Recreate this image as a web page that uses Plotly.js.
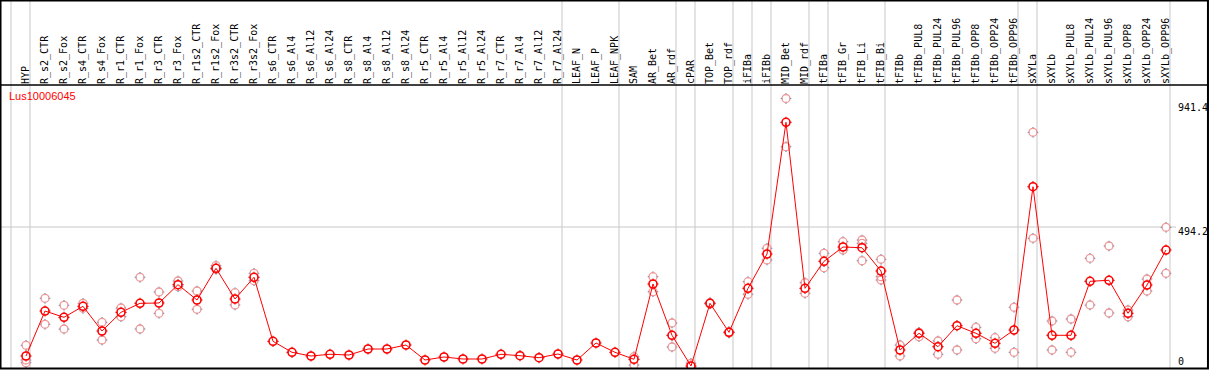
<!DOCTYPE html>
<html>
<head>
<meta charset="utf-8">
<script src="https://cdn.plot.ly/plotly-3.0.1.min.js"></script>
<style>html,body{margin:0;padding:0;background:#fff;}#chart{width:1209px;height:370px;}</style>
</head>
<body>
<div id="chart"></div>
<script>
const geneName = 'Lus10006045';

const categories = ['HYP','R_s2_CTR','R_s2_Fox','R_s4_CTR','R_s4_Fox','R_r1_CTR','R_r1_Fox','R_r3_CTR','R_r3_Fox',
  'R_r1s2_CTR','R_r1s2_Fox','R_r3s2_CTR','R_r3s2_Fox','R_s6_CTR','R_s6_Al4','R_s6_Al12','R_s6_Al24',
  'R_s8_CTR','R_s8_Al4','R_s8_Al12','R_s8_Al24','R_r5_CTR','R_r5_Al4','R_r5_Al12','R_r5_Al24',
  'R_r7_CTR','R_r7_Al4','R_r7_Al12','R_r7_Al24','LEAF_N','LEAF_P','LEAF_NPK','SAM','AR_Bet','AR_rdf',
  'cPAR','TOP_Bet','TOP_rdf','iFIBa','iFIBb','MID_Bet','MID_rdf','tFIBa','tFIB_Gr','tFIB_Li','tFIB_Bi',
  'tFIBb','tFIBb_PUL8','tFIBb_PUL24','tFIBb_PUL96','tFIBb_OPP8','tFIBb_OPP24','tFIBb_OPP96',
  'sXYLa','sXYLb','sXYLb_PUL8','sXYLb_PUL24','sXYLb_PUL96','sXYLb_OPP8','sXYLb_OPP24','sXYLb_OPP96'];

// group sizes (separated by grey vertical lines)
const groupSizes = [1, 28, 3, 3, 1, 2, 1, 1, 2, 1, 3, 7, 1, 7];

const means = [45.2, 201.8, 179.9, 218.2, 132.2, 197.3, 228.6, 229.7, 293.4, 240.1, 350.4, 243.6, 319.1,
  96.4, 58.1, 45.2, 51.2, 48.7, 69.6, 69.6, 83.5, 31.3, 41.8, 34.8, 34.8, 51.2, 46.3, 39.3, 52.2,
  31.3, 90.5, 58.1, 33.8, 295.8, 117.3, 10.4, 228.6, 127.7, 280.8, 400.2, 858.5, 280.8,
  374.8, 424.6, 422.1, 341.0, 66.1, 124.2, 77.6, 150.7, 124.2, 89.4, 135.7,
  634.4, 117.3, 117.3, 305.2, 308.7, 193.8, 292.3, 414.1];

const repA = [82.5, 246.0, 221.7, 228.6, 162.5, 212.3, 319.1, 268.0, 306.2, 271.4, 359.5, 265.5, 333.0,
  null, null, null, null, null, null, null, null, null, null, null, null, null, null, null, null,
  null, null, null, 42.8, 321.2, 160.1, 19.8, 230.7, 129.8, 303.8, 420.0, 941.4, 300.3,
  402.6, 443.0, 448.9, 381.8, 83.5, 127.7, 97.4, 240.1, 145.1, 108.9, 214.7,
  823.7, 167.0, 174.0, 385.2, 428.0, 205.3, 313.2, 493.1];

const repB = [21.9, 155.6, 139.2, 211.2, 100.9, 182.0, 139.2, 193.8, 286.4, 207.8, 347.0, 222.7, 307.3,
  null, null, null, null, null, null, null, null, null, null, null, null, null, null, null, null,
  null, null, null, 13.9, 269.0, 76.6, 3.5, 226.2, 125.3, 260.0, 379.3, 773.6, 263.4,
  352.5, 414.1, 376.9, 321.2, 45.2, 112.4, 51.2, 66.1, 105.4, 72.0, 58.1,
  454.8, 66.1, 58.1, 222.7, 194.9, 182.0, 271.4, 333.0];

const repC = [31.3, null, null, null, null, null, null, null, null, null, null, null, null,
  null, null, null, null, null, null, null, null, null, null, null, null, null, null, null, null,
  null, null, null, null, null, null, null, null, null, null, null, null, null,
  null, null, 437.4, 309.7, null, null, null, null, null, null, null,
  null, null, null, null, null, null, null, null];

const axisLabels = [941.4, 494.2, 0];
const midGrid = 494.2;
const yMax = 988.4;

// ---- build replicate point lists
const repX = [], repY = [];
[repA, repB, repC].forEach(arr => arr.forEach((v, i) => { if (v !== null) { repX.push(categories[i]); repY.push(v); } }));

const RED = '#ff0000';
const PINK = '#f09898';

const traces = [
  {x: repX, y: repY, type: 'scatter', mode: 'markers', hoverinfo: 'skip',
   marker: {symbol: 'cross-thin-open', size: 7.5, line: {color: PINK, width: 1}}},
  {x: repX, y: repY, type: 'scatter', mode: 'markers', hoverinfo: 'skip',
   marker: {symbol: 'circle', size: 7, color: '#ffffff', line: {width: 0}}},
  {x: repX, y: repY, type: 'scatter', mode: 'markers',
   marker: {symbol: 'circle-open', size: 8, color: PINK, line: {color: PINK, width: 1.3}}},
  {x: categories, y: means, type: 'scatter', mode: 'markers', hoverinfo: 'skip',
   marker: {symbol: 'cross-thin-open', size: 8, line: {color: RED, width: 1.2}}},
  {x: categories, y: means, type: 'scatter', mode: 'markers', hoverinfo: 'skip',
   marker: {symbol: 'circle', size: 7, color: '#ffffff', line: {width: 0}}},
  {x: categories, y: means, type: 'scatter', mode: 'lines+markers',
   line: {color: RED, width: 1},
   marker: {symbol: 'circle-open', size: 8, color: RED, line: {color: RED, width: 1.6}}}
];

// ---- grey separators between groups
const shapes = [];
const sepOffset = 0.21;
let cum = 0;
shapes.push({type: 'line', xref: 'x', yref: 'paper', x0: -1 + sepOffset, x1: -1 + sepOffset, y0: 0, y1: 1.3,
  line: {color: '#c8c8c8', width: 1}, layer: 'below'});
groupSizes.forEach(n => {
  cum += n;
  const xv = cum - 1 + sepOffset;
  shapes.push({type: 'line', xref: 'x', yref: 'paper', x0: xv, x1: xv, y0: 0, y1: 1.3,
    line: {color: '#c8c8c8', width: 1}, layer: 'below'});
});
// mid grid line
shapes.push({type: 'line', xref: 'paper', yref: 'y', x0: 0, x1: 0.9743, y0: midGrid, y1: midGrid,
  line: {color: '#c8c8c8', width: 1}, layer: 'below'});
// header separator line
shapes.push({type: 'line', xref: 'paper', yref: 'paper', x0: 0, x1: 1.0008, y0: 1, y1: 1,
  line: {color: '#000', width: 1.5}});
// outer frame
shapes.push({type: 'rect', xref: 'paper', yref: 'paper', x0: -0.0004, x1: 1.0008, y0: 0.0018, y1: 1.2975,
  line: {color: '#000', width: 2}, fillcolor: 'rgba(0,0,0,0)'});

const labelShift = {941.4: -8.5, 494.2: -4, 0: 7.5};
const annotations = axisLabels.map(v => ({
  xref: 'paper', yref: 'y', x: 0.9745, y: v, xanchor: 'left', yanchor: 'middle',
  yshift: labelShift[v], text: String(v), showarrow: false,
  font: {family: 'DejaVu Sans Mono, monospace', size: 10, color: '#000'}
}));

const layout = {
  width: 1209, height: 370,
  margin: {l: 1, r: 2, t: 85, b: 1, pad: 0},
  paper_bgcolor: '#fff', plot_bgcolor: '#fff',
  showlegend: false,
  title: {text: geneName, x: 9 / 1209, xanchor: 'left', xref: 'container',
    y: 1 - 96.5 / 370, yanchor: 'middle', yref: 'container', pad: {t: 0, b: 0, l: 0, r: 0},
    font: {family: 'Liberation Sans, Arial, sans-serif', size: 11, color: RED}},
  xaxis: {type: 'category', categoryorder: 'array', categoryarray: categories,
    side: 'top', range: [-1.3158, 62.158], automargin: false,
    tickmode: 'linear', tick0: 0, dtick: 1, tickangle: -90, ticks: '', showgrid: false,
    zeroline: false, showline: false, fixedrange: true,
    tickfont: {family: 'DejaVu Sans Mono, monospace', size: 10, color: '#000'}},
  yaxis: {range: [0, yMax], showticklabels: false, showgrid: false, zeroline: false,
    showline: false, ticks: '', automargin: false, fixedrange: true},
  shapes: shapes,
  annotations: annotations
};

Plotly.newPlot('chart', traces, layout, {displayModeBar: false, staticPlot: true});
</script>
</body>
</html>
